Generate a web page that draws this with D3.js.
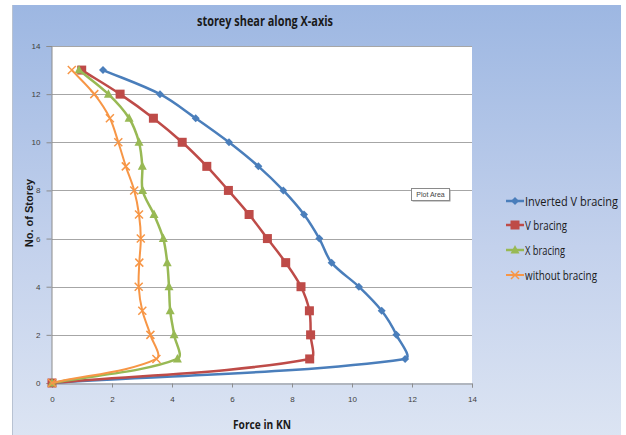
<!DOCTYPE html>
<html>
<head>
<meta charset="utf-8">
<script src="https://cdn.jsdelivr.net/npm/d3@7"></script>
<style>
  html, body { margin: 0; padding: 0; background: #ffffff; }
  svg { display: block; }
</style>
</head>
<body>
<svg id="chart" width="626" height="435"></svg>
<script>
// Storey numbers (y values) shared by all series
const storeys = [0, 1, 2, 3, 4, 5, 6, 7, 8, 9, 10, 11, 12, 13];

// Storey shear force (kN) for each bracing type, by storey
const invertedV = [0, 11.77, 11.48, 10.99, 10.23, 9.32, 8.91, 8.40, 7.71, 6.88, 5.90, 4.79, 3.60, 1.70];
const vBracing  = [0, 8.59, 8.62, 8.58, 8.30, 7.79, 7.18, 6.57, 5.88, 5.16, 4.34, 3.38, 2.27, 0.99];
const xBracing  = [0, 4.18, 4.07, 3.94, 3.90, 3.84, 3.71, 3.40, 3.02, 3.01, 2.90, 2.57, 1.88, 0.90];
const noBracing = [0, 3.48, 3.28, 3.01, 2.89, 2.91, 2.96, 2.90, 2.74, 2.46, 2.21, 1.93, 1.41, 0.66];

const seriesNames = ["Inverted V bracing", "V bracing", "X bracing", "without bracing"];
const xTicks = [0, 2, 4, 6, 8, 10, 12, 14];
const yTicks = [0, 2, 4, 6, 8, 10, 12, 14];

const series = [
  { name: seriesNames[0], values: invertedV, color: "#4A7EBB", marker: "diamond",  width: 2.5 },
  { name: seriesNames[1], values: vBracing,  color: "#BE4B48", marker: "square",   width: 2.5 },
  { name: seriesNames[2], values: xBracing,  color: "#98B954", marker: "triangle", width: 2.5 },
  { name: seriesNames[3], values: noBracing, color: "#F79646", marker: "cross",    width: 2 }
];

const svg = d3.select("#chart");

// Chart background: vertical blue gradient
const defs = svg.append("defs");
const grad = defs.append("linearGradient")
  .attr("id", "bg").attr("x1", 0).attr("y1", 0).attr("x2", 0).attr("y2", 1);
grad.append("stop").attr("offset", "0%").attr("stop-color", "#9DB7E2");
grad.append("stop").attr("offset", "55%").attr("stop-color", "#C3D1EC");
grad.append("stop").attr("offset", "100%").attr("stop-color", "#DDE5F3");

svg.append("rect")
  .attr("x", 12).attr("y", 5).attr("width", 609).attr("height", 440)
  .attr("fill", "url(#bg)");
svg.append("line")
  .attr("x1", 12.5).attr("x2", 12.5).attr("y1", 5).attr("y2", 435)
  .attr("stroke", "#b8c2d2").attr("stroke-width", 1);

// Plot area
const plot = { left: 52, top: 46, right: 472, bottom: 383 };

const x = d3.scaleLinear().domain([0, 14]).range([plot.left, plot.right]);
const y = d3.scaleLinear().domain([0, 14]).range([plot.bottom, plot.top]);

svg.append("rect")
  .attr("x", plot.left).attr("y", plot.top)
  .attr("width", plot.right - plot.left).attr("height", plot.bottom - plot.top)
  .attr("fill", "#ffffff");

// Horizontal gridlines
svg.append("g")
  .selectAll("line")
  .data(yTicks.filter(d => d > 0))
  .join("line")
  .attr("x1", plot.left).attr("x2", plot.right)
  .attr("y1", d => Math.round(y(d)) + 0.5).attr("y2", d => Math.round(y(d)) + 0.5)
  .attr("stroke", "#A6A6A6").attr("stroke-width", 1.2);

// Axes
const axisFont = "Liberation Sans, Arial, sans-serif";

const xAxis = svg.append("g")
  .attr("transform", `translate(0,${plot.bottom + 0.5})`)
  .call(d3.axisBottom(x).tickValues(xTicks).tickSize(4).tickPadding(9).tickFormat(d3.format("d")));
const yAxis = svg.append("g")
  .attr("transform", `translate(${plot.left - 0.5},0)`)
  .call(d3.axisLeft(y).tickValues(yTicks).tickSize(5).tickPadding(6).tickFormat(d3.format("d")));

[xAxis, yAxis].forEach(g => {
  g.select(".domain").attr("stroke", "#8C8C8C").attr("stroke-width", 1);
  g.selectAll(".tick line").attr("stroke", "#8C8C8C");
  g.selectAll(".tick text")
    .attr("fill", "#404040")
    .attr("font-family", axisFont)
    .attr("font-size", 8);
});

// Smoothed line: cubic Bezier segments whose tangents are split in
// proportion to the neighbouring segment lengths (keeps long segments straight)
function smoothPath(pts) {
  const p = d3.path();
  const n = pts.length;
  const dist = (a, b) => Math.hypot(b[0] - a[0], b[1] - a[1]);
  const tangent = i => {
    const a = pts[Math.max(0, i - 1)], b = pts[Math.min(n - 1, i + 1)];
    return [b[0] - a[0], b[1] - a[1]];
  };
  p.moveTo(pts[0][0], pts[0][1]);
  for (let i = 0; i < n - 1; i++) {
    const a = pts[i], b = pts[i + 1];
    const d = dist(a, b);
    const dPrev = i > 0 ? dist(pts[i - 1], a) : 0;
    const dNext = i + 2 < n ? dist(b, pts[i + 2]) : 0;
    const ta = tangent(i), tb = tangent(i + 1);
    const fa = (i > 0 ? d / (dPrev + d) : 1) / 3;
    const fb = (i + 2 < n ? d / (d + dNext) : 1) / 3;
    p.bezierCurveTo(
      a[0] + ta[0] * fa, a[1] + ta[1] * fa,
      b[0] - tb[0] * fb, b[1] - tb[1] * fb,
      b[0], b[1]
    );
  }
  return p.toString();
}

function drawMarker(g, type, color) {
  if (type === "diamond") {
    g.append("path").attr("d", "M0,-4L4,0L0,4L-4,0Z").attr("fill", color);
  } else if (type === "square") {
    g.append("rect").attr("x", -4.5).attr("y", -4.5).attr("width", 9).attr("height", 9).attr("fill", color);
  } else if (type === "triangle") {
    g.append("path").attr("d", "M0,-5L4.5,3.5L-4.5,3.5Z").attr("fill", color);
  } else if (type === "cross") {
    g.append("path").attr("d", "M-4,-4L4,4M-4,4L4,-4")
      .attr("stroke", color).attr("stroke-width", 1.5).attr("fill", "none");
  }
}

series.forEach(sr => {
  const pts = storeys.map((s, i) => [x(sr.values[i]), y(s)]);
  svg.append("path")
    .attr("d", smoothPath(pts))
    .attr("fill", "none")
    .attr("stroke", sr.color)
    .attr("stroke-width", sr.width)
    .attr("stroke-linejoin", "round");
  pts.forEach(pt => {
    const g = svg.append("g").attr("transform", `translate(${pt[0]},${pt[1]})`);
    drawMarker(g, sr.marker, sr.color);
  });
});

// Title and axis titles
const titleFont = "Open Sans, Lato, sans-serif";
svg.append("text")
  .attr("x", 265).attr("y", 26)
  .attr("text-anchor", "middle")
  .attr("font-family", titleFont)
  .attr("font-weight", "bold")
  .attr("font-size", 14)
  .attr("textLength", 136).attr("lengthAdjust", "spacingAndGlyphs")
  .attr("fill", "#1a1a1a")
  .text("storey shear along X-axis");

svg.append("text")
  .attr("x", 262).attr("y", 429)
  .attr("text-anchor", "middle")
  .attr("font-family", titleFont)
  .attr("font-weight", "bold")
  .attr("font-size", 12)
  .attr("textLength", 58).attr("lengthAdjust", "spacingAndGlyphs")
  .attr("fill", "#1a1a1a")
  .text("Force in KN");

svg.append("text")
  .attr("transform", "translate(33,213) rotate(-90)")
  .attr("text-anchor", "middle")
  .attr("font-family", axisFont)
  .attr("font-weight", "bold")
  .attr("font-size", 11)
  .attr("fill", "#1a1a1a")
  .text("No. of Storey");

// Legend
const legend = svg.append("g");
const legendY = [201, 225, 250, 275];
series.forEach((sr, i) => {
  const g = legend.append("g").attr("transform", `translate(506,${legendY[i]})`);
  g.append("line").attr("x1", 0).attr("x2", 18).attr("y1", 0).attr("y2", 0)
    .attr("stroke", sr.color).attr("stroke-width", sr.width);
  const m = g.append("g").attr("transform", "translate(9,0)");
  drawMarker(m, sr.marker, sr.color);
  const widths = [93, 42, 40, 72];
  g.append("text")
    .attr("x", 19).attr("y", 4.5)
    .attr("font-family", titleFont)
    .attr("font-size", 12)
    .attr("textLength", widths[i]).attr("lengthAdjust", "spacingAndGlyphs")
    .attr("fill", "#1a1a1a")
    .text(sr.name);
});

// "Plot Area" hover label
const tip = svg.append("g").attr("transform", "translate(411,188)");
tip.append("rect").attr("x", 1.5).attr("y", 1.5).attr("width", 38).attr("height", 12)
  .attr("fill", "#9a9a9a");
tip.append("rect").attr("x", 0.5).attr("y", 0.5).attr("width", 38).attr("height", 12)
  .attr("fill", "#ffffff").attr("stroke", "#8a8a8a").attr("stroke-width", 1);
tip.append("text")
  .attr("x", 19.5).attr("y", 9)
  .attr("text-anchor", "middle")
  .attr("font-family", axisFont)
  .attr("font-size", 7)
  .attr("fill", "#444")
  .text("Plot Area");
</script>
</body>
</html>
